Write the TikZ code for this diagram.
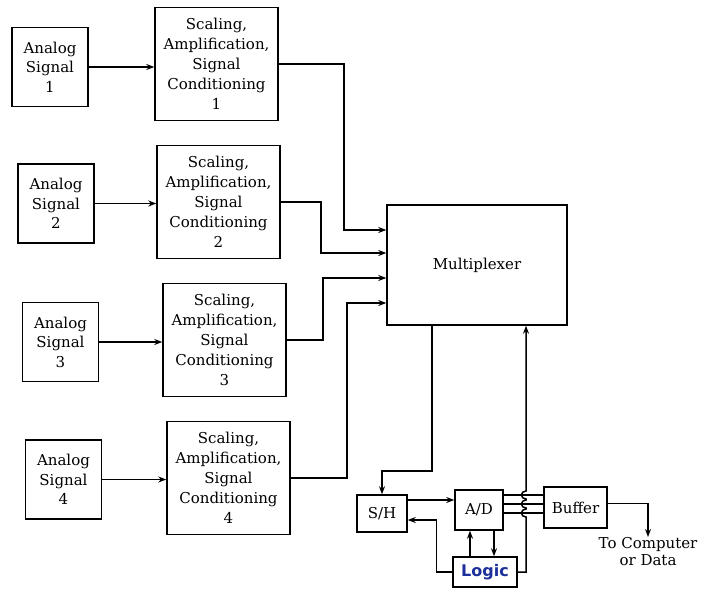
\documentclass[tikz,border=0pt]{standalone}
\usepackage{fontspec}
\setmainfont{DejaVu Serif}
\newfontfamily\handfont{DejaVu Sans}
\usetikzlibrary{arrows.meta,calc}
\definecolor{logicblue}{HTML}{1C2F9A}
\begin{document}
\begin{tikzpicture}[x=1pt,y=-1pt,
  box/.style={draw,line width=1.5pt,inner sep=0pt,align=center,font=\fontsize{15}{19.5}\selectfont},
  sbox/.style={box,minimum width=123pt,minimum height=113pt,font=\fontsize{15}{20}\selectfont},
  abox/.style={box,minimum width=76pt,minimum height=79pt},
  arr/.style={line width=1.5pt,-{Stealth[length=8pt,width=6pt]}},
  ln/.style={line width=1.5pt}]
\useasboundingbox (0,0) rectangle (711,596);
% analog signals
\node[abox] (a1) at (50,67) {Analog\\Signal\\1};
\node[abox] (a2) at (56,203.5) {Analog\\Signal\\2};
\node[abox] (a3) at (60.5,342) {Analog\\Signal\\3};
\node[abox] (a4) at (63.5,479.5) {Analog\\Signal\\4};
% conditioning
\node[sbox] (s1) at (216.5,64) {Scaling,\\Amplification,\\Signal\\Conditioning\\1};
\node[sbox] (s2) at (218.5,202) {Scaling,\\Amplification,\\Signal\\Conditioning\\2};
\node[sbox] (s3) at (224.5,340) {Scaling,\\Amplification,\\Signal\\Conditioning\\3};
\node[sbox] (s4) at (228.5,478) {Scaling,\\Amplification,\\Signal\\Conditioning\\4};
% multiplexer
\node[box,minimum width=180pt,minimum height=120pt] (mux) at (477,265) {Multiplexer};
% bottom blocks
\node[box,minimum width=50pt,minimum height=37pt] (sh) at (382,513.5) {S/H};
\node[box,minimum width=48pt,minimum height=40pt] (ad) at (479,510) {A/D};
\node[box,minimum width=63pt,minimum height=41pt] (buf) at (575.5,507.5) {Buffer};
\node[box,minimum width=64pt,minimum height=30pt,text=logicblue,font=\handfont\bfseries\fontsize{16}{17}\selectfont] (logic) at (485,572) {Logic};
\node[align=center,inner sep=0pt,anchor=north,font=\fontsize{15}{17}\selectfont] (tc) at (648,537) {To Computer\\or Data};
% analog -> conditioning
\draw[arr] (a1.east) -- (s1.west |- a1.east);
\draw[arr] (a2.east) -- (s2.west |- a2.east);
\draw[arr] (a3.east) -- (s3.west |- a3.east);
\draw[arr] (a4.east) -- (s4.west |- a4.east);
% conditioning -> mux
\draw[arr] (s1.east) -- ++(65,0) |- ([yshift=35pt]mux.west);
\draw[arr] (s2.east) -- ++(40,0) |- ([yshift=12pt]mux.west);
\draw[arr] (s3.east) -- ++(36,0) |- ([yshift=-13pt]mux.west);
\draw[arr] (s4.east) -- ++(56,0) |- ([yshift=-38pt]mux.west);
% mux -> S/H
\draw[arr] ([xshift=-45pt]mux.south) -- ++(0,145) -| (sh.north);
% S/H -> A/D
\draw[arr] ([yshift=13.5pt]sh.east) -- ([yshift=10pt]ad.west);
% logic -> S/H
\draw[arr] (logic.west) -- ++(-16,0) |- ([yshift=-6.5pt]sh.east);
% logic <-> A/D
\draw[arr] ([xshift=-15pt]logic.north) -- ([xshift=-9pt]ad.south);
\draw[arr] ([xshift=15pt]ad.south) -- ([xshift=9pt]logic.north);
% bus A/D -> buffer
\draw[ln] ([yshift=15pt]ad.east) -- ([yshift=12.5pt]buf.west);
\draw[ln] ([yshift=6pt]ad.east) -- ([yshift=3.5pt]buf.west);
\draw[ln] ([yshift=-3pt]ad.east) -- ([yshift=-5.5pt]buf.west);
% logic -> mux with hops
\draw[arr] (logic.east) -- (526,572) -- (526,517)
  .. controls (520,517) and (520,509) .. (526,509) -- (526,508)
  .. controls (520,508) and (520,500) .. (526,500) -- (526,499)
  .. controls (520,499) and (520,491) .. (526,491)
  -- ([xshift=49pt]mux.south);
% buffer -> output
\draw[arr] ([yshift=4pt]buf.east) -| (tc.north);
\end{tikzpicture}
\end{document}
